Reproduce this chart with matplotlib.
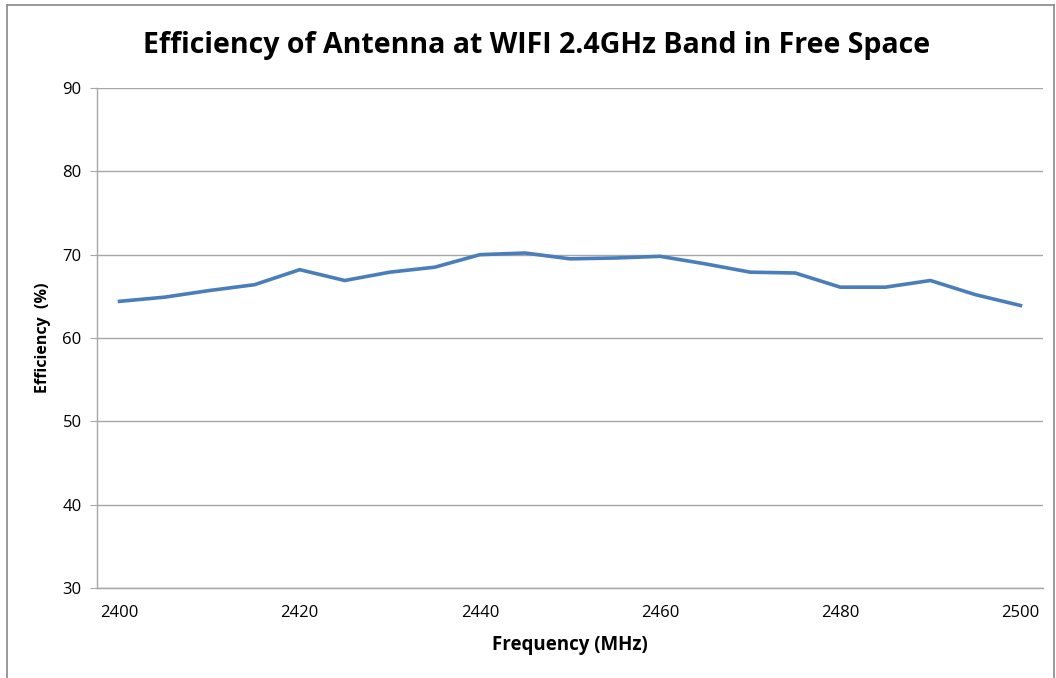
import matplotlib
matplotlib.use("Agg")
import matplotlib.pyplot as plt
from matplotlib.lines import Line2D
from matplotlib import font_manager

# data
freq_mhz = [2400, 2405, 2410, 2415, 2420, 2425, 2430, 2435, 2440, 2445, 2450,
            2455, 2460, 2465, 2470, 2475, 2480, 2485, 2490, 2495, 2500]
efficiency = [64.4, 64.9, 65.7, 66.4, 68.2, 66.9, 67.9, 68.5, 70.0, 70.2, 69.5,
              69.6, 69.8, 68.9, 67.9, 67.8, 66.1, 66.1, 66.9, 65.2, 63.9]
x_ticks = [2400, 2420, 2440, 2460, 2480, 2500]
y_ticks = [30, 40, 50, 60, 70, 80, 90]

names = {f.name for f in font_manager.fontManager.ttflist}
font = "Liberation Sans Narrow" if "Liberation Sans Narrow" in names else "Open Sans"
plt.rcParams["font.family"] = [font, "DejaVu Sans"]

W, H = 1056, 678
fig = plt.figure(figsize=(W / 100, H / 100), dpi=100)
ax = fig.add_axes([97 / W, 1 - 588 / H, (1043 - 97) / W, (588 - 88) / H])

ax.plot(freq_mhz, efficiency, color="#4A7EBB", linewidth=2.6, solid_joinstyle="round")

ax.set_xlim(2397.5, 2502.5)
ax.set_ylim(30, 90)
ax.set_xticks(x_ticks)
ax.set_yticks(y_ticks)
ax.grid(axis="y", color="#A6A6A6", linewidth=1)
ax.set_axisbelow(True)

for s in ["top", "right"]:
    ax.spines[s].set_visible(False)
for s in ["left", "bottom"]:
    ax.spines[s].set_color("#A6A6A6")
    ax.spines[s].set_linewidth(1)

ax.tick_params(axis="y", length=5, color="#A6A6A6", labelsize=12, pad=6)
ax.tick_params(axis="x", length=0, labelsize=12, pad=12)

ax.set_xlabel("Frequency (MHz)", fontsize=13.5, fontweight="bold", labelpad=10)
ax.set_ylabel("Efficiency  (%)", fontsize=11.5, fontweight="bold", labelpad=8)

fig.text(537 / W, 1 - 45 / H, "Efficiency of Antenna at WIFI 2.4GHz Band in Free Space",
         ha="center", va="center", fontsize=20.5, fontweight="bold")

# chart frame
frame = dict(color="#888888", linewidth=1.2, transform=fig.transFigure)
fig.add_artist(Line2D([7 / W, 7 / W], [0, 1 - 5 / H], **frame))
fig.add_artist(Line2D([7 / W, 1054 / W], [1 - 5 / H, 1 - 5 / H], **frame))
fig.add_artist(Line2D([1054 / W, 1054 / W], [0, 1 - 5 / H], **frame))

fig.savefig("out.png", dpi=100)
